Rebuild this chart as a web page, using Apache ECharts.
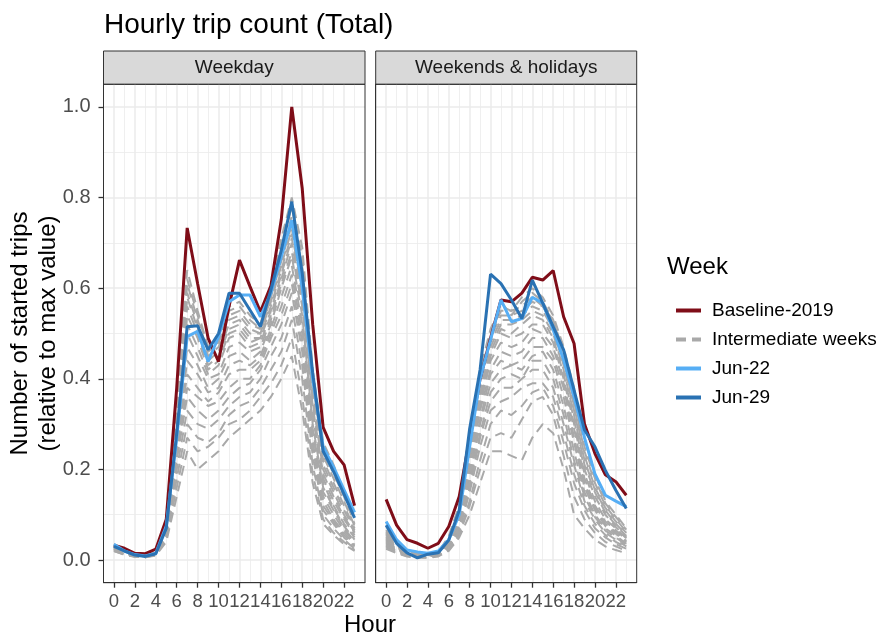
<!DOCTYPE html>
<html>
<head>
<meta charset="utf-8">
<script src="https://cdn.jsdelivr.net/npm/echarts@6/dist/echarts.min.js"></script>
<style>html,body{margin:0;padding:0;background:#fff}</style>
</head>
<body>
<div id="main" style="width:888px;height:639px;"></div>
<script>
// hours of the day
var hours = [0,1,2,3,4,5,6,7,8,9,10,11,12,13,14,15,16,17,18,19,20,21,22,23];
var xTicks = [0,2,4,6,8,10,12,14,16,18,20,22];
var xMinor = [1,3,5,7,9,11,13,15,17,19,21,23];
var yTicks = [0,0.2,0.4,0.6,0.8,1.0];
var yMinor = [0.1,0.3,0.5,0.7,0.9];

// Weekday panel
var wdBaseline = [0.033,0.026,0.015,0.014,0.024,0.09,0.38,0.733,0.61,0.49,0.438,0.56,0.662,0.604,0.548,0.605,0.752,1.0,0.82,0.52,0.293,0.24,0.21,0.12];
var wdJun22 = [0.035,0.02,0.012,0.009,0.015,0.075,0.27,0.493,0.505,0.438,0.493,0.57,0.585,0.585,0.537,0.589,0.67,0.75,0.60,0.40,0.25,0.205,0.155,0.105];
var wdJun29 = [0.03,0.02,0.011,0.008,0.014,0.07,0.28,0.515,0.517,0.464,0.50,0.589,0.589,0.552,0.515,0.596,0.684,0.791,0.633,0.413,0.24,0.195,0.145,0.093];
var wdWeeks = [
  [0.02,0.012,0.008,0.006,0.01,0.04,0.14,0.24,0.20,0.22,0.24,0.27,0.29,0.31,0.33,0.36,0.40,0.45,0.33,0.17,0.08,0.055,0.035,0.02],
  [0.022,0.013,0.008,0.006,0.011,0.045,0.16,0.27,0.24,0.25,0.27,0.30,0.31,0.33,0.36,0.39,0.43,0.49,0.36,0.19,0.09,0.06,0.04,0.022],
  [0.02,0.012,0.007,0.006,0.012,0.05,0.18,0.30,0.27,0.26,0.28,0.32,0.34,0.35,0.38,0.42,0.46,0.53,0.40,0.21,0.10,0.07,0.045,0.025],
  [0.025,0.014,0.009,0.007,0.012,0.05,0.20,0.33,0.30,0.29,0.31,0.34,0.36,0.37,0.40,0.45,0.49,0.56,0.43,0.23,0.11,0.08,0.05,0.03],
  [0.022,0.013,0.008,0.006,0.013,0.055,0.22,0.36,0.33,0.31,0.33,0.36,0.38,0.39,0.42,0.47,0.52,0.59,0.46,0.25,0.12,0.085,0.055,0.032],
  [0.026,0.015,0.009,0.007,0.013,0.055,0.23,0.38,0.36,0.34,0.35,0.38,0.40,0.40,0.43,0.49,0.54,0.61,0.48,0.26,0.13,0.09,0.06,0.035],
  [0.024,0.014,0.009,0.008,0.014,0.06,0.24,0.41,0.38,0.35,0.37,0.41,0.42,0.42,0.44,0.50,0.56,0.63,0.50,0.28,0.14,0.10,0.065,0.04],
  [0.028,0.016,0.01,0.008,0.014,0.06,0.25,0.44,0.41,0.37,0.38,0.43,0.44,0.43,0.45,0.51,0.58,0.65,0.52,0.29,0.15,0.11,0.07,0.042],
  [0.026,0.015,0.01,0.008,0.015,0.065,0.26,0.47,0.43,0.38,0.40,0.45,0.46,0.44,0.46,0.52,0.60,0.67,0.54,0.30,0.16,0.115,0.075,0.045],
  [0.03,0.017,0.011,0.009,0.015,0.065,0.27,0.50,0.45,0.40,0.41,0.47,0.48,0.46,0.47,0.53,0.61,0.68,0.56,0.32,0.17,0.12,0.08,0.05],
  [0.028,0.016,0.01,0.008,0.016,0.07,0.28,0.52,0.47,0.41,0.43,0.49,0.50,0.47,0.48,0.54,0.62,0.70,0.57,0.33,0.18,0.13,0.09,0.055],
  [0.03,0.018,0.011,0.009,0.016,0.07,0.29,0.54,0.49,0.42,0.44,0.50,0.51,0.48,0.49,0.55,0.63,0.71,0.59,0.34,0.19,0.14,0.095,0.06],
  [0.032,0.018,0.012,0.009,0.016,0.072,0.30,0.56,0.50,0.43,0.45,0.51,0.52,0.49,0.49,0.56,0.64,0.72,0.60,0.35,0.20,0.15,0.10,0.062],
  [0.03,0.017,0.011,0.009,0.017,0.075,0.31,0.58,0.51,0.44,0.46,0.52,0.53,0.50,0.50,0.57,0.65,0.73,0.62,0.37,0.21,0.16,0.11,0.066],
  [0.033,0.019,0.012,0.01,0.017,0.075,0.32,0.59,0.52,0.45,0.47,0.53,0.54,0.51,0.50,0.58,0.66,0.74,0.63,0.38,0.22,0.17,0.12,0.07],
  [0.032,0.018,0.012,0.01,0.018,0.078,0.33,0.61,0.53,0.46,0.48,0.54,0.55,0.52,0.51,0.58,0.67,0.76,0.65,0.39,0.23,0.18,0.13,0.075],
  [0.035,0.02,0.013,0.01,0.018,0.08,0.34,0.62,0.54,0.47,0.48,0.55,0.56,0.53,0.51,0.59,0.69,0.78,0.67,0.40,0.25,0.19,0.14,0.08],
  [0.034,0.02,0.013,0.011,0.019,0.082,0.35,0.64,0.55,0.47,0.49,0.56,0.57,0.54,0.52,0.60,0.71,0.80,0.69,0.42,0.26,0.21,0.15,0.09]
];

// Weekends & holidays panel
var weBaseline = [0.134,0.077,0.045,0.037,0.026,0.037,0.074,0.14,0.27,0.40,0.49,0.574,0.57,0.589,0.624,0.618,0.639,0.537,0.478,0.30,0.235,0.188,0.173,0.143];
var weJun22 = [0.085,0.045,0.022,0.018,0.015,0.02,0.045,0.10,0.25,0.40,0.486,0.574,0.526,0.533,0.58,0.567,0.508,0.442,0.36,0.27,0.19,0.143,0.13,0.118];
var weJun29 = [0.077,0.037,0.016,0.005,0.013,0.016,0.044,0.11,0.29,0.42,0.631,0.61,0.574,0.533,0.618,0.567,0.515,0.464,0.375,0.287,0.25,0.198,0.154,0.114];
var weWeeks = [
  [0.025,0.015,0.008,0.005,0.005,0.008,0.02,0.05,0.10,0.17,0.24,0.24,0.23,0.22,0.27,0.30,0.28,0.20,0.10,0.07,0.045,0.03,0.022,0.015],
  [0.03,0.018,0.01,0.006,0.006,0.01,0.022,0.055,0.12,0.20,0.27,0.28,0.27,0.31,0.35,0.36,0.32,0.23,0.14,0.09,0.06,0.04,0.03,0.02],
  [0.028,0.016,0.009,0.006,0.006,0.01,0.025,0.06,0.13,0.22,0.30,0.33,0.32,0.34,0.37,0.38,0.34,0.26,0.17,0.11,0.07,0.05,0.035,0.025],
  [0.032,0.02,0.011,0.007,0.007,0.011,0.027,0.065,0.15,0.25,0.33,0.35,0.36,0.38,0.39,0.39,0.36,0.28,0.19,0.12,0.08,0.055,0.04,0.028],
  [0.035,0.021,0.012,0.007,0.007,0.012,0.03,0.07,0.16,0.27,0.35,0.38,0.38,0.40,0.42,0.42,0.38,0.30,0.21,0.13,0.09,0.06,0.045,0.03],
  [0.033,0.02,0.012,0.008,0.008,0.012,0.031,0.075,0.17,0.28,0.37,0.40,0.41,0.40,0.44,0.44,0.40,0.32,0.22,0.14,0.095,0.065,0.05,0.033],
  [0.038,0.023,0.013,0.008,0.008,0.013,0.033,0.08,0.18,0.30,0.39,0.42,0.43,0.42,0.45,0.46,0.42,0.34,0.24,0.15,0.10,0.07,0.054,0.036],
  [0.04,0.024,0.014,0.009,0.008,0.013,0.035,0.085,0.19,0.31,0.41,0.44,0.43,0.44,0.47,0.47,0.44,0.36,0.26,0.16,0.11,0.075,0.058,0.04],
  [0.042,0.025,0.014,0.009,0.009,0.014,0.036,0.09,0.20,0.33,0.42,0.46,0.45,0.46,0.49,0.49,0.45,0.38,0.27,0.17,0.115,0.08,0.062,0.042],
  [0.045,0.027,0.015,0.01,0.009,0.014,0.038,0.095,0.21,0.34,0.44,0.48,0.47,0.48,0.51,0.50,0.47,0.39,0.29,0.18,0.12,0.085,0.066,0.045],
  [0.047,0.028,0.016,0.01,0.01,0.015,0.04,0.10,0.22,0.35,0.45,0.50,0.49,0.50,0.52,0.52,0.48,0.40,0.30,0.19,0.13,0.09,0.07,0.048],
  [0.05,0.03,0.017,0.011,0.01,0.015,0.041,0.10,0.23,0.36,0.46,0.51,0.50,0.52,0.54,0.53,0.49,0.41,0.31,0.20,0.14,0.10,0.073,0.05],
  [0.052,0.031,0.018,0.011,0.01,0.016,0.043,0.105,0.24,0.37,0.47,0.52,0.52,0.53,0.55,0.54,0.50,0.42,0.32,0.21,0.15,0.105,0.077,0.053],
  [0.055,0.033,0.019,0.012,0.011,0.016,0.045,0.11,0.25,0.38,0.48,0.53,0.53,0.54,0.56,0.55,0.51,0.43,0.33,0.22,0.155,0.11,0.08,0.056],
  [0.058,0.035,0.02,0.012,0.011,0.017,0.046,0.11,0.25,0.39,0.49,0.54,0.54,0.55,0.57,0.56,0.52,0.44,0.34,0.23,0.16,0.115,0.085,0.06],
  [0.06,0.036,0.021,0.013,0.012,0.017,0.048,0.115,0.26,0.40,0.50,0.55,0.55,0.56,0.58,0.56,0.53,0.45,0.35,0.24,0.17,0.12,0.09,0.063],
  [0.063,0.038,0.022,0.013,0.012,0.018,0.05,0.12,0.27,0.41,0.50,0.57,0.54,0.57,0.59,0.57,0.53,0.46,0.36,0.25,0.18,0.125,0.095,0.067],
  [0.066,0.04,0.023,0.014,0.013,0.018,0.052,0.12,0.28,0.42,0.51,0.56,0.55,0.58,0.60,0.58,0.54,0.47,0.38,0.27,0.19,0.13,0.10,0.07]
];

var cBase = '#7f0d18', cJun22 = '#56aef5', cJun29 = '#2a72b3', cGray = '#a9a9a9';
var font = 'Liberation Sans, Arial, sans-serif';

var chart = echarts.init(document.getElementById('main'));

function mkLine(name, vals, color, width, dash, idx) {
    return {
        type: 'line', name: name, xAxisIndex: idx, yAxisIndex: idx,
        symbol: 'none', silent: true, animation: false,
        data: hours.map(function (h, i) { return [h, vals[i]]; }),
        lineStyle: { color: color, width: width, type: dash },
        itemStyle: { color: color }
    };
}

// grey weeks underneath, highlighted weeks on top
function panelSeries(base, weeks, j22, j29, idx) {
    var s = [];
    weeks.forEach(function (w) { s.push(mkLine('Intermediate weeks', w, cGray, 2, [10, 6], idx)); });
    s.push(mkLine('Baseline-2019', base, cBase, 3, 'solid', idx));
    s.push(mkLine('Jun-22', j22, cJun22, 3, 'solid', idx));
    s.push(mkLine('Jun-29', j29, cJun29, 3, 'solid', idx));
    return s;
}

function xMajor(grid) {
    return {
        type: 'value', gridIndex: grid, min: -1, max: 24, position: 'bottom',
        axisLine: { show: true, onZero: false, lineStyle: { color: '#333333', width: 1 } },
        axisTick: { show: true, length: 5, customValues: xTicks, lineStyle: { color: '#333333', width: 1.3 } },
        axisLabel: { customValues: xTicks, margin: 10, color: '#4d4d4d', fontSize: 18.5, fontFamily: font,
            hideOverlap: false, showMinLabel: true, showMaxLabel: true },
        splitLine: { show: true, lineStyle: { color: '#ebebeb', width: 1.5 } }
    };
}
function xMin(grid) {
    return {
        type: 'value', gridIndex: grid, min: -1, max: 24, position: 'top',
        axisLine: { show: false, onZero: false },
        axisTick: { show: false, customValues: xMinor },
        axisLabel: { show: false, customValues: xMinor },
        splitLine: { show: true, lineStyle: { color: '#ebebeb', width: 0.8 } }
    };
}
function yMajor(grid, labels) {
    return {
        type: 'value', gridIndex: grid, min: -0.05, max: 1.05, position: 'left',
        axisLine: { show: true, onZero: false, lineStyle: { color: '#333333', width: 1 } },
        axisTick: { show: labels, length: 5, customValues: yTicks, lineStyle: { color: '#333333', width: 1.3 } },
        axisLabel: { show: labels, customValues: yTicks, margin: 13, color: '#4d4d4d', fontSize: 20, fontFamily: font,
            hideOverlap: false, formatter: function (v) { return v.toFixed(1); } },
        splitLine: { show: true, lineStyle: { color: '#ebebeb', width: 1.5 } }
    };
}
function yMin(grid) {
    return {
        type: 'value', gridIndex: grid, min: -0.05, max: 1.05, position: 'right',
        axisLine: { show: false, onZero: false },
        axisTick: { show: false, customValues: yMinor },
        axisLabel: { show: false, customValues: yMinor },
        splitLine: { show: true, lineStyle: { color: '#ebebeb', width: 0.8 } }
    };
}

// facet strip on top of each panel
function strip(x, w, label) {
    return [
        { type: 'rect', shape: { x: x, y: 51, width: w, height: 33.3 },
          style: { fill: '#d9d9d9', stroke: '#333333', lineWidth: 1 } },
        { type: 'text', x: x + w / 2, y: 67.6,
          style: { text: label, fill: '#1a1a1a', font: '19px ' + font, textAlign: 'center', textVerticalAlign: 'middle' } }
    ];
}
// panel border drawn above the grid lines, like ggplot
function frame(x, w) {
    return { type: 'rect', z: 100, silent: true, shape: { x: x, y: 84.3, width: w, height: 498.4 },
             style: { fill: 'none', stroke: '#333333', lineWidth: 1 } };
}

var option = {
    backgroundColor: '#ffffff',
    animation: false,
    title: {
        text: 'Hourly trip count (Total)', left: 99, top: 6,
        textStyle: { fontSize: 28, fontWeight: 'normal', color: '#000', fontFamily: font }
    },
    legend: {
        orient: 'vertical', left: 669, top: 296,
        itemWidth: 25, itemHeight: 20, itemGap: 10,
        data: ['Baseline-2019', 'Intermediate weeks', 'Jun-22', 'Jun-29'],
        itemStyle: { opacity: 0 },
        lineStyle: { width: 4 },
        textStyle: { fontSize: 19, color: '#000', fontFamily: font, padding: [0, 0, 0, 6] }
    },
    grid: [
        { left: 103.5, top: 84.3, width: 261.5, height: 498.4, show: true, borderWidth: 0, backgroundColor: '#fff' },
        { left: 375.7, top: 84.3, width: 261, height: 498.4, show: true, borderWidth: 0, backgroundColor: '#fff' }
    ],
    xAxis: [xMajor(0), xMin(0), xMajor(1), xMin(1)],
    yAxis: [yMajor(0, true), yMin(0), yMajor(1, false), yMin(1)],
    graphic: strip(103.5, 261.5, 'Weekday')
        .concat(strip(375.7, 261, 'Weekends & holidays'))
        .concat([
            frame(103.5, 261.5),
            frame(375.7, 261),
            { type: 'text', x: 34, y: 333.5, rotation: Math.PI / 2,
              style: { text: 'Number of started trips\n(relative to max value)', fill: '#000', font: '24px ' + font,
                       textAlign: 'center', textVerticalAlign: 'middle', lineHeight: 28 } },
            { type: 'text', x: 370, y: 625,
              style: { text: 'Hour', fill: '#000', font: '24px ' + font, textAlign: 'center', textVerticalAlign: 'middle' } },
            { type: 'text', x: 667, y: 267,
              style: { text: 'Week', fill: '#000', font: '24px ' + font, textAlign: 'left', textVerticalAlign: 'middle' } }
        ]),
    series: panelSeries(wdBaseline, wdWeeks, wdJun22, wdJun29, 0)
        .concat(panelSeries(weBaseline, weWeeks, weJun22, weJun29, 2))
};

chart.setOption(option);
</script>
</body>
</html>
